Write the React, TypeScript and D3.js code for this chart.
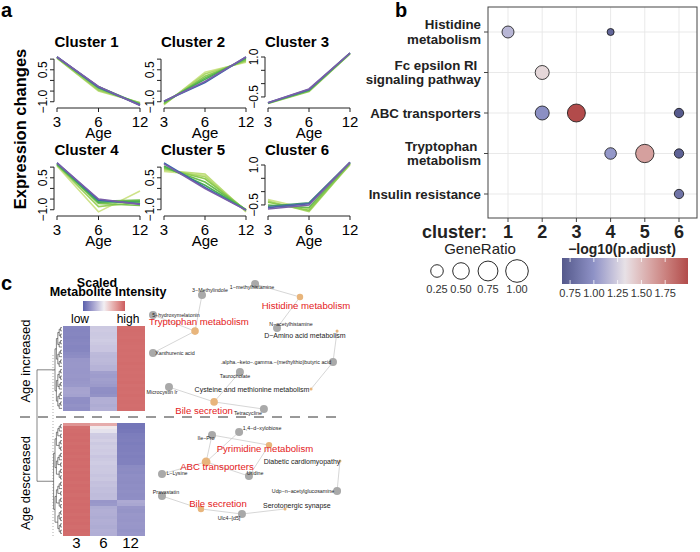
import React from 'react';
import * as d3 from 'd3';

const FONT = '"Liberation Sans", Arial, Helvetica, sans-serif';

// ---------- panel a: cluster expression profiles ----------
const AGES = ['3', '6', '12'];
const CLUSTER_TITLES = ['Cluster 1', 'Cluster 2', 'Cluster 3', 'Cluster 4', 'Cluster 5', 'Cluster 6'];

// each line: scaled expression at age 3, 6, 12
const CLUSTER1_LINES = [
  [1.05, -0.5, -1.05], [1.05, -0.45, -1.05], [1.08, -0.38, -1.1], [1.08, -0.3, -1.12],
  [1.1, -0.33, -1.15], [1.1, -0.3, -1.15], [1.1, -0.28, -1.18],
];
const CLUSTER1_MEMBERSHIP = [0.35, 0.45, 0.55, 0.65, 0.8, 0.9, 1.0];

const CLUSTER2_LINES = [
  [-1.15, 0.38, 0.85], [-1.1, 0.3, 0.9], [-1.1, 0.2, 0.95], [-1.05, 0.12, 1.0],
  [-1.0, 0.05, 1.05], [-0.98, -0.1, 1.1], [-0.98, -0.05, 1.1],
];
const CLUSTER2_MEMBERSHIP = [0.3, 0.4, 0.5, 0.6, 0.7, 0.85, 1.0];

const CLUSTER3_LINES = [
  [-0.75, -0.3, 1.12], [-0.74, -0.27, 1.13], [-0.73, -0.24, 1.15], [-0.72, -0.22, 1.15], [-0.72, -0.2, 1.15],
];
const CLUSTER3_MEMBERSHIP = [0.45, 0.6, 0.75, 0.9, 1.0];

const CLUSTER4_LINES = [
  [1.05, -1.1, -0.12], [1.1, -0.85, -0.65], [1.15, -0.7, -0.8], [1.1, -0.6, -0.55],
  [1.15, -0.65, -0.62], [1.2, -0.55, -0.72], [1.2, -0.5, -0.75],
];
const CLUSTER4_MEMBERSHIP = [0.3, 0.45, 0.55, 0.6, 0.7, 0.85, 1.0];

const CLUSTER5_LINES = [
  [0.8, 0.62, -1.05], [0.85, 0.68, -1.1], [0.9, 0.55, -1.05], [0.95, 0.45, -1.02],
  [1.0, 0.3, -1.0], [1.05, 0.15, -1.0], [1.2, 0.05, -1.02], [1.15, 0.0, -1.02],
];
const CLUSTER5_MEMBERSHIP = [0.3, 0.35, 0.4, 0.5, 0.6, 0.7, 0.85, 1.0];

const CLUSTER6_LINES = [
  [-0.3, -0.65, 1.0], [-0.35, -0.75, 1.03], [-0.4, -0.7, 1.05], [-0.5, -0.6, 1.08],
  [-0.55, -0.42, 1.1], [-0.6, -0.45, 1.1], [-0.65, -0.5, 1.1],
];
const CLUSTER6_MEMBERSHIP = [0.3, 0.4, 0.5, 0.6, 0.75, 0.9, 1.0];

const CLUSTER_LINES = [CLUSTER1_LINES, CLUSTER2_LINES, CLUSTER3_LINES, CLUSTER4_LINES, CLUSTER5_LINES, CLUSTER6_LINES];
const CLUSTER_MEMBERSHIP = [
  CLUSTER1_MEMBERSHIP, CLUSTER2_MEMBERSHIP, CLUSTER3_MEMBERSHIP,
  CLUSTER4_MEMBERSHIP, CLUSTER5_MEMBERSHIP, CLUSTER6_MEMBERSHIP,
];
const CLUSTER_AXIS = ['A', 'A', 'B', 'A', 'A', 'B'];
const Y_TICKS_A = [-1, -0.5, 0, 0.5, 1];
const Y_LABELS_A = [0.5, -1];
const Y_TICKS_B = [-0.5, 0, 0.5, 1];
const Y_LABELS_B = [1, -0.5];

// ---------- panel b: enrichment dot plot ----------
const CLUSTERS = ['1', '2', '3', '4', '5', '6'];
const PATHWAYS = [
  'Histidine metabolism', 'Fc epsilon RI signaling pathway', 'ABC transporters',
  'Tryptophan metabolism', 'Insulin resistance',
];
const PATHWAY_LINES = [
  ['Histidine', 'metabolism'], ['Fc epsilon RI ', 'signaling pathway'], ['ABC transporters'],
  ['Tryptophan ', 'metabolism'], ['Insulin resistance'],
];
const ENRICH_CLUSTER = ['1', '4', '2', '2', '3', '6', '4', '5', '6', '6'];
const ENRICH_PATHWAY = [0, 0, 1, 2, 2, 2, 3, 3, 3, 4];
const ENRICH_GENERATIO = [0.22, 0.02, 0.33, 0.33, 0.6, 0.1, 0.2, 0.63, 0.1, 0.1];
const ENRICH_LOGP = [1.15, 0.75, 1.38, 0.98, 1.99, 0.67, 1.02, 1.62, 0.72, 0.82];
const SIZE_BREAKS = [0.25, 0.5, 0.75, 1.0];
const COLOR_BREAKS = [0.75, 1.0, 1.25, 1.5, 1.75];

// ---------- panel c: metabolite heatmap ----------
const HEAT_COLS = ['3', '6', '12'];
const HEAT_UP = [
  [-0.86, -0.3, 1.06], [-0.87, -0.29, 1.08], [-0.86, -0.31, 1.07], [-0.88, -0.3, 1.06],
  [-0.86, -0.28, 1.08], [-0.85, -0.3, 1.07], [-0.87, -0.33, 1.06], [-0.86, -0.33, 1.07],
  [-0.82, -0.42, 1.06], [-0.8, -0.44, 1.07], [-0.72, -0.42, 1.06], [-0.71, -0.44, 1.08],
  [-0.71, -0.48, 1.06], [-0.72, -0.48, 1.07], [-0.72, -0.65, 1.06], [-0.71, -0.67, 1.07],
  [-0.73, -0.64, 1.06], [-0.71, -0.66, 1.08], [-0.7, -0.69, 1.05], [-0.61, -0.78, 1.07],
  [-0.6, -0.79, 1.06], [-0.62, -0.76, 1.08], [-0.78, -0.52, 1.06], [-0.79, -0.51, 1.07],
  [-0.76, -0.54, 1.06], [-0.78, -0.51, 1.07],
];
const HEAT_DOWN = [
  [0.75, 0.55, -1.0], [1.05, 0.05, -1.0], [1.08, -0.1, -0.98],
  [1.09, -0.28, -0.94], [1.08, -0.29, -0.93], [1.09, -0.25, -0.92], [1.07, -0.3, -0.94],
  [1.09, -0.27, -0.92], [1.08, -0.29, -0.92], [1.09, -0.28, -0.9], [1.07, -0.33, -0.92],
  [1.09, -0.3, -0.9], [1.08, -0.28, -0.9], [1.09, -0.31, -0.82], [1.07, -0.3, -0.81],
  [1.09, -0.31, -0.82], [1.08, -0.34, -0.79], [1.09, -0.32, -0.8], [1.07, -0.37, -0.81],
  [1.09, -0.36, -0.79], [1.08, -0.39, -0.8], [1.09, -0.38, -0.78], [1.07, -0.41, -0.8],
  [1.09, -0.4, -0.79], [1.08, -0.72, -0.55], [1.09, -0.7, -0.58],
  [1.08, -0.54, -0.72], [1.09, -0.51, -0.74], [1.07, -0.52, -0.71], [1.09, -0.54, -0.72],
  [1.08, -0.51, -0.73], [1.09, -0.52, -0.71], [1.07, -0.54, -0.72], [1.09, -0.51, -0.74],
  [1.08, -0.52, -0.72],
];

// ---------- panel c: metabolite-pathway network ----------
// kind: m = metabolite, p = highlighted pathway, o = other pathway
const NET_NODES = [
  ['m1', '3−Methylindole', 'm'], ['m2', '1−methylhistamine', 'm'], ['p1', 'Histidine metabolism', 'p'],
  ['m3', '5−hydroxymelatonin', 'm'], ['p2', 'Tryptophan metabolism', 'p'], ['m4', 'Xanthurenic acid', 'm'],
  ['m5', 'N−acetylhistamine', 'm'], ['p3', 'D−Amino acid metabolism', 'o'],
  ['m6', '.alpha.−keto−.gamma.−(methylthio)butyric acid', 'm'], ['m7', 'Taurocholate', 'm'],
  ['m8', 'Microcystin lr', 'm'], ['p4', 'Cysteine and methionine metabolism', 'o'],
  ['p5', 'Bile secretion', 'p'], ['m9', 'Tetracycline', 'm'],
  ['m10', '1,4−d−xylobiose', 'm'], ['m11', 'Ile−Pro', 'm'], ['p6', 'Pyrimidine metabolism', 'p'],
  ['p7', 'ABC transporters', 'p'], ['p8', 'Diabetic cardiomyopathy', 'o'], ['m12', 'Uridine', 'm'],
  ['m13', 'L−Lysine', 'm'], ['m14', 'Pravastatin', 'm'], ['m15', 'Udp−n−acetylglucosamine', 'm'],
  ['p9', 'Bile secretion', 'p'], ['p10', 'Serotonergic synapse', 'o'], ['m16', 'Ulc4−[d5]', 'm'],
];
// layout coordinates (0..1) of each node and of its label
const NET_LAYOUT = [
  [0.278, 0.063, 0.317, 0.042], [0.537, 0.017, 0.522, 0.029], [0.756, 0.071, 0.785, 0.108],
  [0.039, 0.146, 0.151, 0.146], [0.244, 0.213, 0.263, 0.175], [0.039, 0.304, 0.146, 0.304],
  [0.644, 0.2, 0.712, 0.183], [0.937, 0.213, 0.78, 0.233],
  [0.917, 0.342, 0.639, 0.342], [0.463, 0.383, 0.439, 0.4],
  [0.117, 0.446, 0.083, 0.467], [0.81, 0.454, 0.522, 0.458],
  [0.337, 0.508, 0.288, 0.546], [0.58, 0.538, 0.502, 0.554],
  [0.459, 0.633, 0.571, 0.617], [0.327, 0.646, 0.298, 0.658], [0.605, 0.688, 0.585, 0.704],
  [0.298, 0.758, 0.351, 0.779], [0.951, 0.754, 0.766, 0.758], [0.507, 0.817, 0.537, 0.804],
  [0.083, 0.808, 0.156, 0.804], [0.083, 0.9, 0.102, 0.883], [0.937, 0.879, 0.771, 0.879],
  [0.273, 0.954, 0.356, 0.933], [0.683, 0.954, 0.741, 0.938], [0.473, 0.975, 0.41, 0.992],
];
const NET_EDGES = [
  ['m2', 'p1'], ['m5', 'p1'], ['m1', 'p2'], ['m3', 'p2'], ['m4', 'p2'],
  ['p3', 'm6'], ['m6', 'p4'], ['m7', 'p5'], ['m8', 'p5'], ['p5', 'm9'],
  ['m11', 'p6'], ['m10', 'p7'], ['m11', 'p7'], ['m13', 'p7'], ['m12', 'p6'], ['m12', 'p7'],
  ['p8', 'm15'], ['m14', 'p9'], ['p9', 'm16'], ['m16', 'p10'],
];

// ---------- scales ----------
const membershipColor = d3.scaleLinear<string>()
  .domain([0.3, 0.5, 0.7, 0.85, 1.0])
  .range(['#cfe38a', '#8bca4e', '#49ad52', '#3566ad', '#7a5ea8']);

const pColor = d3.scaleLinear<string>()
  .domain([0.665, 1.0, 1.33, 1.99])
  .range(['#55598b', '#8f93c7', '#e8e2e6', '#b24b4b'])
  .interpolate(d3.interpolateLab);

const heatColor = d3.scaleLinear<string>()
  .domain([-1.2, 0, 1.2])
  .range(['#5a60ac', '#f2eff3', '#cc5c5e'])
  .interpolate(d3.interpolateLab);

const sizeArea = d3.scaleLinear().domain([0, 1]).range([10, 128]);
const radius = (v: number) => Math.sqrt(sizeArea(v));

const fmt1 = d3.format('.1f');
const fmt2 = d3.format('.2f');

function ClusterPlot({ index }: { index: number }) {
  const col = index % 3;
  const row = Math.floor(index / 3);
  const dy = row * 108;
  const x0 = [57, 164, 268][col];
  const x1 = [140, 246, 350][col];
  const typeA = CLUSTER_AXIS[index] === 'A';
  const ticks = typeA ? Y_TICKS_A : Y_TICKS_B;
  const labelled = typeA ? Y_LABELS_A : Y_LABELS_B;
  const x = d3.scalePoint<string>().domain(AGES).range([x0, x1]);
  const y = d3.scaleLinear().domain(typeA ? [-1.2, 1.1] : [-0.84, 1.0]).range([106 + dy, 57 + dy]);
  const line = d3.line<number>().x((_, i) => x(AGES[i]) as number).y((v) => y(v));
  const axisX = x0 - 3;
  const axisY = 108 + dy;
  const lines = CLUSTER_LINES[index]
    .map((v, i) => ({ v, m: CLUSTER_MEMBERSHIP[index][i] }))
    .sort((a, b) => a.m - b.m);
  return (
    <g>
      <text x={(x0 + x1) / 2 - 12} y={47 + dy} textAnchor="middle" fontWeight="bold" fontSize={15}>
        {CLUSTER_TITLES[index]}
      </text>
      {lines.map((l, i) => (
        <path key={i} d={line(l.v) as string} fill="none" stroke={membershipColor(l.m)} strokeWidth={1.6} />
      ))}
      <line x1={axisX} x2={axisX} y1={y(d3.max(ticks) as number)} y2={y(d3.min(ticks) as number)} stroke="#222" />
      {ticks.map((t) => (
        <line key={t} x1={axisX - 4} x2={axisX} y1={y(t)} y2={y(t)} stroke="#222" />
      ))}
      {labelled.map((t) => (
        <text key={t} transform={`translate(${axisX - 7},${y(t)}) rotate(-90)`} textAnchor="middle" fontSize={12}>
          {fmt1(t)}
        </text>
      ))}
      <line x1={x0} x2={x1} y1={axisY} y2={axisY} stroke="#222" />
      {AGES.map((a) => (
        <g key={a}>
          <line x1={x(a)} x2={x(a)} y1={axisY} y2={axisY + 4} stroke="#222" />
          <text x={x(a)} y={127 + dy} textAnchor="middle" fontSize={15}>{a}</text>
        </g>
      ))}
      <text x={(x0 + x1) / 2} y={138 + dy} textAnchor="middle" fontSize={15}>Age</text>
    </g>
  );
}

function PanelA() {
  return (
    <g>
      <text x={1} y={17} fontSize={20} fontWeight="bold">a</text>
      <text transform="translate(25.5,129) rotate(-90)" textAnchor="middle" fontSize={16.5} fontWeight="bold">
        Expression changes
      </text>
      {CLUSTER_TITLES.map((_, i) => <ClusterPlot key={i} index={i} />)}
    </g>
  );
}

function PanelB() {
  const left = 488, right = 697, top = 7, bottom = 218;
  const x = d3.scalePoint<string>().domain(CLUSTERS).range([508, 679]);
  const y = d3.scalePoint<string>().domain(PATHWAYS).range([32, 194]);
  const points = ENRICH_CLUSTER.map((c, i) => ({
    c, p: PATHWAYS[ENRICH_PATHWAY[i]], r: ENRICH_GENERATIO[i], q: ENRICH_LOGP[i],
  }));
  const barX = d3.scaleLinear().domain([0.665, 1.99]).range([562, 688]);
  const gradStops = d3.range(0, 1.0001, 0.05);
  const sizeKeyX = [437, 461, 488, 517];
  return (
    <g>
      <text x={395} y={17} fontSize={20} fontWeight="bold">b</text>
      <rect x={left} y={top} width={right - left} height={bottom - top} fill="#fff" />
      {CLUSTERS.map((c) => (
        <line key={c} x1={x(c)} x2={x(c)} y1={top} y2={bottom} stroke="#e6e6e6" strokeWidth={0.9} />
      ))}
      {PATHWAYS.map((p) => (
        <line key={p} x1={left} x2={right} y1={y(p)} y2={y(p)} stroke="#e6e6e6" strokeWidth={0.9} />
      ))}
      {points.map((d, i) => (
        <circle key={i} cx={x(d.c)} cy={y(d.p)} r={radius(d.r)} fill={pColor(d.q)} stroke="#111" strokeWidth={0.8} />
      ))}
      <rect x={left} y={top} width={right - left} height={bottom - top} fill="none" stroke="#444" strokeWidth={1} />
      {PATHWAYS.map((p, i) => {
        const lines = PATHWAY_LINES[i];
        const cy = y(p) as number;
        return (
          <g key={p}>
            <line x1={left - 4} x2={left} y1={cy} y2={cy} stroke="#444" />
            {lines.map((t, j) => (
              <text key={j} x={481} y={lines.length === 1 ? cy + 4.5 : cy - 3 + j * 14.5}
                textAnchor="end" fontSize={13.3} fontWeight="bold" fill="#222" style={{ whiteSpace: 'pre' }}>
                {t}
              </text>
            ))}
          </g>
        );
      })}
      {CLUSTERS.map((c) => (
        <g key={c}>
          <line x1={x(c)} x2={x(c)} y1={bottom} y2={bottom + 4} stroke="#444" />
          <text x={x(c)} y={238} textAnchor="middle" fontSize={18} fontWeight="bold" fill="#222">{c}</text>
        </g>
      ))}
      <text x={487} y={238} textAnchor="end" fontSize={18} fontWeight="bold" fill="#222">cluster:</text>

      <text x={480} y={254} textAnchor="middle" fontSize={15} fill="#222">GeneRatio</text>
      {SIZE_BREAKS.map((b, i) => (
        <g key={b}>
          <circle cx={sizeKeyX[i]} cy={271} r={radius(b)} fill="none" stroke="#111" strokeWidth={0.9} />
          <text x={sizeKeyX[i]} y={293} textAnchor="middle" fontSize={11} fill="#333">{fmt2(b)}</text>
        </g>
      ))}

      <text x={622} y={254} textAnchor="middle" fontSize={14} fontWeight="bold" fill="#222">−log10(p.adjust)</text>
      <defs>
        <linearGradient id="pgrad" x1="0" x2="1" y1="0" y2="0">
          {gradStops.map((t) => (
            <stop key={t} offset={t} stopColor={pColor(0.665 + t * (1.99 - 0.665))} />
          ))}
        </linearGradient>
      </defs>
      <rect x={562} y={258} width={126} height={26} fill="url(#pgrad)" />
      {COLOR_BREAKS.map((b) => (
        <g key={b}>
          <line x1={barX(b)} x2={barX(b)} y1={258} y2={262} stroke="#fff" strokeWidth={0.8} />
          <line x1={barX(b)} x2={barX(b)} y1={280} y2={284} stroke="#fff" strokeWidth={0.8} />
          <text x={barX(b)} y={297} textAnchor="middle" fontSize={11} fill="#333">{fmt2(b)}</text>
        </g>
      ))}
    </g>
  );
}

type TreeNode = { id?: number; children?: TreeNode[] };
function splitRows(ids: number[]): TreeNode {
  if (ids.length === 1) return { id: ids[0] };
  const mid = Math.ceil(ids.length / 2);
  return { children: [splitRows(ids.slice(0, mid)), splitRows(ids.slice(mid))] };
}

function treeSegments(rows: number, band: d3.ScaleBand<string>) {
  const root: any = d3.hierarchy(splitRows(d3.range(rows)));
  root.eachAfter((n: any) => {
    if (!n.children) n.py = (band(String(n.data.id)) as number) + band.bandwidth() / 2;
    else n.py = (n.children[0].py + n.children[n.children.length - 1].py) / 2;
    n.px = 62 - n.height * 1.4;
  });
  const segs: number[][] = [];
  root.each((n: any) => {
    if (!n.children) return;
    const ys = n.children.map((c: any) => c.py);
    segs.push([n.px, d3.min(ys) as number, n.px, d3.max(ys) as number]);
    n.children.forEach((c: any) => segs.push([n.px, c.py, c.px, c.py]));
  });
  return { root, segs };
}

function PanelC() {
  const col = d3.scaleBand<string>().domain(HEAT_COLS).range([63, 144]);
  const upBand = d3.scaleBand<string>().domain(HEAT_UP.map((_, i) => String(i))).range([326, 410]);
  const downBand = d3.scaleBand<string>().domain(HEAT_DOWN.map((_, i) => String(i))).range([423, 535]);
  const up = treeSegments(HEAT_UP.length, upBand);
  const down = treeSegments(HEAT_DOWN.length, downBand);
  const rootX = 37;

  const nx = d3.scaleLinear().domain([0, 1]).range([145, 350]);
  const ny = d3.scaleLinear().domain([0, 1]).range([280, 520]);
  const nodes = NET_NODES.map(([id, label, kind], i) => ({
    id, label, kind, x: nx(NET_LAYOUT[i][0]), y: ny(NET_LAYOUT[i][1]),
    lx: nx(NET_LAYOUT[i][2]), ly: ny(NET_LAYOUT[i][3]),
  }));
  const byId = new Map(nodes.map((n) => [n.id, n]));
  const degree = d3.rollup(NET_EDGES.flat(), (v) => v.length, (d) => d);

  const heatStops = d3.range(0, 1.0001, 0.1);

  return (
    <g>
      <text x={1} y={290} fontSize={20} fontWeight="bold">c</text>
      <text x={97} y={286.5} textAnchor="middle" fontSize={12.5} fontWeight="bold">Scaled</text>
      <text x={108} y={296} textAnchor="middle" fontSize={12.5} fontWeight="bold">Metabolite Intensity</text>
      <defs>
        <linearGradient id="hgrad" x1="0" x2="1" y1="0" y2="0">
          {heatStops.map((t) => <stop key={t} offset={t} stopColor={heatColor(-1.2 + t * 2.4)} />)}
        </linearGradient>
      </defs>
      <rect x={83} y={301} width={42} height={10} fill="url(#hgrad)" />
      <text x={80} y={323} textAnchor="middle" fontSize={12}>low</text>
      <text x={128} y={323} textAnchor="middle" fontSize={12}>high</text>

      <g shapeRendering="crispEdges">
        {HEAT_UP.map((r, i) => r.map((v, j) => (
          <rect key={`u${i}-${j}`} x={col(HEAT_COLS[j])} y={upBand(String(i))}
            width={col.bandwidth() + 0.5} height={upBand.bandwidth() + 0.5} fill={heatColor(v)} />
        )))}
        {HEAT_DOWN.map((r, i) => r.map((v, j) => (
          <rect key={`d${i}-${j}`} x={col(HEAT_COLS[j])} y={downBand(String(i))}
            width={col.bandwidth() + 0.5} height={downBand.bandwidth() + 0.5} fill={heatColor(v)} />
        )))}
      </g>
      {HEAT_COLS.map((c) => (
        <text key={c} x={(col(c) as number) + col.bandwidth() / 2} y={548} textAnchor="middle" fontSize={15}>{c}</text>
      ))}

      <g stroke="#333" strokeWidth={0.6}>
        {[...up.segs, ...down.segs].map((s, i) => <line key={i} x1={s[0]} y1={s[1]} x2={s[2]} y2={s[3]} />)}
        <line x1={rootX} x2={rootX} y1={up.root.py} y2={down.root.py} />
        <line x1={rootX} x2={up.root.px} y1={up.root.py} y2={up.root.py} />
        <line x1={rootX} x2={down.root.px} y1={down.root.py} y2={down.root.py} />
      </g>
      <line x1={53} x2={53} y1={355} y2={537} stroke="#777" strokeWidth={0.6} strokeDasharray="1,2" />
      <line x1={20} x2={340} y1={417} y2={417} stroke="#333" strokeWidth={1} strokeDasharray="10,8" />

      <text transform="translate(30,361) rotate(-90)" textAnchor="middle" fontSize={13}>Age increased</text>
      <text transform="translate(30,483) rotate(-90)" textAnchor="middle" fontSize={13}>Age descreased</text>

      {NET_EDGES.map(([a, b], i) => {
        const s = byId.get(a)!, t = byId.get(b)!;
        return <line key={i} x1={s.x} y1={s.y} x2={t.x} y2={t.y} stroke="#c4c4c4" strokeWidth={0.7} />;
      })}
      {nodes.map((n) => (
        <circle key={n.id} cx={n.x} cy={n.y}
          r={n.kind === 'm' ? 4 : n.kind === 'p' ? 2 + (degree.get(n.id) || 1) * 0.6 : 1.5}
          fill={n.kind === 'm' ? '#a9a9a9' : '#e8b57c'} />
      ))}
      {nodes.map((n) => (
        <text key={`l${n.id}`} x={n.lx} y={n.ly} dy="0.35em" textAnchor="middle"
          fontSize={n.kind === 'p' ? 9.6 : n.kind === 'o' ? 7 : 5.3}
          fill={n.kind === 'p' ? '#e41a1c' : '#222'}>
          {n.label}
        </text>
      ))}
    </g>
  );
}

export default function App() {
  return (
    <svg width={700} height={552} viewBox="0 0 700 552" fontFamily={FONT}
      style={{ position: 'absolute', left: 0, top: 0, background: '#fff' }}>
      <rect width={700} height={552} fill="#fff" />
      <PanelA />
      <PanelB />
      <PanelC />
    </svg>
  );
}
